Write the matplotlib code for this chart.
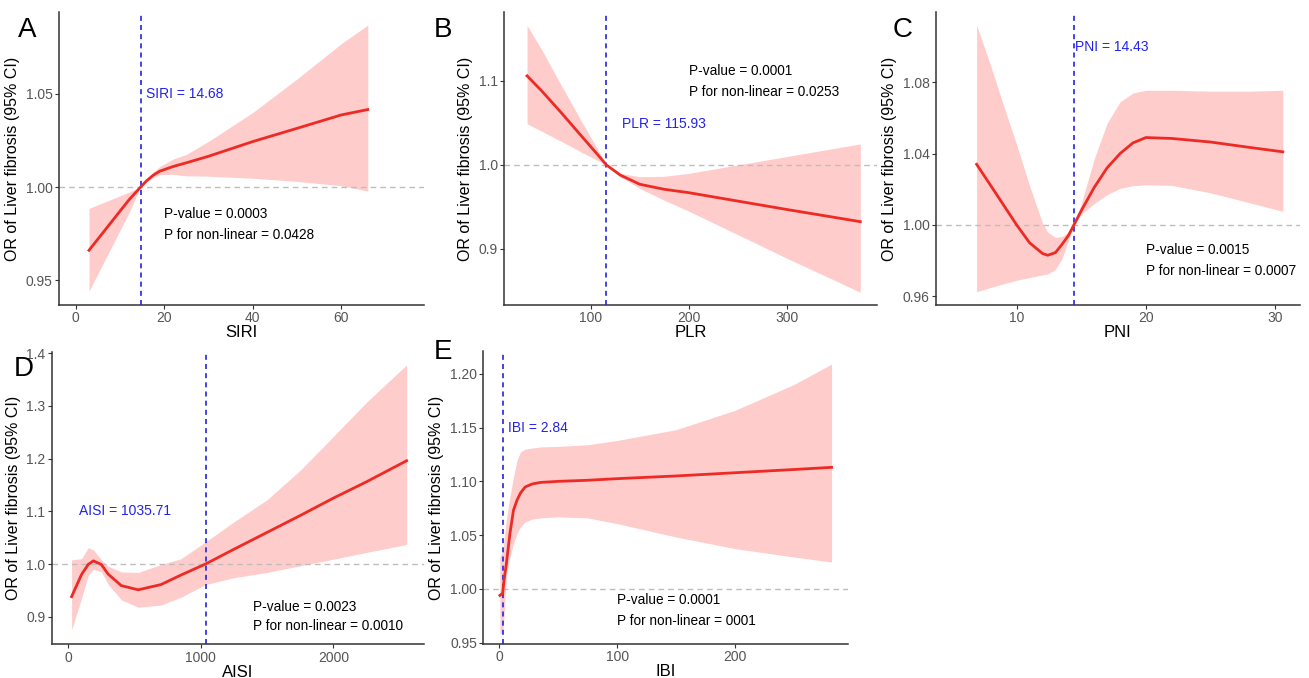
import matplotlib
matplotlib.use("Agg")
import matplotlib.pyplot as plt

plt.rcParams['font.family'] = ['Liberation Sans', 'DejaVu Sans']

# ---- data ----
# A: SIRI
siri_x = [3, 6, 9, 12, 14.68, 16, 17.5, 19, 22, 25, 30, 40, 50, 60, 66]
siri_or = [0.966, 0.975, 0.984, 0.993, 1.0, 1.0033, 1.0063, 1.0085, 1.011, 1.013, 1.0165, 1.0244, 1.0315,
           1.0387, 1.0416]
siri_hi = [0.9885, 0.9914, 0.9943, 0.9972, 1.0, 1.0040, 1.0080, 1.0110, 1.0150, 1.0175, 1.0245, 1.040,
           1.058, 1.077, 1.087]
siri_lo = [0.944, 0.958, 0.972, 0.986, 1.0, 1.0028, 1.0050, 1.0066, 1.0068, 1.006, 1.0058, 1.0047, 1.003,
           1.0007, 0.9978]

# B: PLR
plr_x = [35, 50, 70, 90, 105, 115.93, 130, 150, 175, 200, 250, 300, 375]
plr_or = [1.106, 1.088, 1.062, 1.035, 1.015, 1.0, 0.988, 0.977, 0.971, 0.967, 0.957, 0.947, 0.9325]
plr_hi = [1.166, 1.137, 1.0945, 1.053, 1.0225, 1.0, 0.99, 0.986, 0.9865, 0.99, 1.0, 1.01, 1.025]
plr_lo = [1.049, 1.040, 1.028, 1.0155, 1.0066, 1.0, 0.986, 0.972, 0.958, 0.945, 0.917, 0.889, 0.8485]

# C: PNI
pni_x = [6.9, 8, 9, 10, 11, 12, 12.4, 13, 13.5, 14, 14.43, 15, 16, 17, 18, 19, 20, 22, 25, 28, 30.6]
pni_or = [1.034, 1.022, 1.011, 1.0, 0.990, 0.984, 0.983, 0.9845, 0.989, 0.994, 1.0, 1.008, 1.021,
          1.032, 1.040, 1.046, 1.049, 1.0485, 1.0465, 1.0435, 1.041]
pni_hi = [1.112, 1.089, 1.0666, 1.045, 1.022, 1.001, 0.996, 0.993, 0.9935, 0.996, 1.0, 1.012, 1.037,
          1.057, 1.069, 1.074, 1.0755, 1.0755, 1.075, 1.075, 1.0755]
pni_lo = [0.9625, 0.965, 0.967, 0.969, 0.9705, 0.972, 0.9725, 0.975, 0.981, 0.991, 1.0, 1.006, 1.012,
          1.017, 1.0205, 1.022, 1.0225, 1.0222, 1.018, 1.0125, 1.0076]

# D: AISI
aisi_x = [25, 100, 150, 189, 250, 300, 400, 528, 700, 850, 1035.71, 1250, 1500, 1750, 2000, 2250, 2553]
aisi_or = [0.938, 0.980, 0.999, 1.006, 0.999, 0.981, 0.959, 0.951, 0.961, 0.979, 1.0, 1.028, 1.060,
           1.092, 1.125, 1.156, 1.196]
aisi_hi = [1.008, 1.010, 1.031, 1.027, 1.008, 0.996, 0.985, 0.984, 0.999, 1.010, 1.042, 1.080, 1.122,
           1.178, 1.242, 1.307, 1.378]
aisi_lo = [0.875, 0.935, 0.978, 0.990, 0.985, 0.962, 0.932, 0.918, 0.922, 0.937, 0.961, 0.974, 0.984,
           0.9965, 1.009, 1.022, 1.037]

# E: IBI
ibi_x = [0.5, 2.84, 4, 6, 9, 12, 15, 18, 22, 28, 35, 50, 75, 100, 150, 200, 250, 282]
ibi_or = [0.994, 0.996, 1.008, 1.0235, 1.0514, 1.073, 1.0824, 1.0892, 1.0948, 1.0976, 1.099, 1.1,
          1.101, 1.1025, 1.105, 1.108, 1.111, 1.113]
ibi_hi = [1.03, 1.035, 1.045, 1.065, 1.0855, 1.104, 1.1196, 1.1273, 1.130, 1.131, 1.132, 1.1325,
          1.134, 1.138, 1.148, 1.166, 1.19, 1.209]
ibi_lo = [0.958, 0.96, 0.975, 1.0127, 1.0297, 1.042, 1.0514, 1.0576, 1.0623, 1.065, 1.066, 1.067,
          1.066, 1.0607, 1.0483, 1.0375, 1.0297, 1.025]

panels = [
    dict(tag="A", rect=[0.0451, 0.5501, 0.2788, 0.4322], x=siri_x, y=siri_or, lo=siri_lo, hi=siri_hi,
         name="SIRI", cut=14.68, cut_txt="SIRI = 14.68", xlim=(-3.77, 78.7), ylim=(0.9366, 1.094),
         xticks=[0, 20, 40, 60], yticks=[0.95, 1.00, 1.05], yfmt="{:.2f}",
         cut_pos=(15.8, 1.05), p_pos=(20, 0.9853, 0.974), pv=("0.0003", "0.0428"),
         tag_pos=(27, 30)),
    dict(tag="B", rect=[0.3853, 0.5501, 0.2845, 0.4322], x=plr_x, y=plr_or, lo=plr_lo, hi=plr_hi,
         name="PLR", cut=115.93, cut_txt="PLR = 115.93", xlim=(11.8, 391.8), ylim=(0.8333, 1.182),
         xticks=[100, 200, 300], yticks=[0.9, 1.0, 1.1], yfmt="{:.1f}",
         cut_pos=(131.6, 1.049), p_pos=(200, 1.112, 1.0873), pv=("0.0001", "0.0253"),
         tag_pos=(443, 30)),
    dict(tag="C", rect=[0.7148, 0.5501, 0.2783, 0.4322], x=pni_x, y=pni_or, lo=pni_lo, hi=pni_hi,
         name="PNI", cut=14.43, cut_txt="PNI = 14.43", xlim=(3.73, 31.93), ylim=(0.9551, 1.1194),
         xticks=[10, 20, 30], yticks=[0.96, 1.00, 1.04, 1.08], yfmt="{:.2f}",
         cut_pos=(14.5, 1.0998), p_pos=(20, 0.9858, 0.9742), pv=("0.0015", "0.0007"),
         tag_pos=(903, 30)),
    dict(tag="D", rect=[0.0395, 0.0497, 0.2844, 0.4316], x=aisi_x, y=aisi_or, lo=aisi_lo, hi=aisi_hi,
         name="AISI", cut=1035.71, cut_txt="AISI = 1035.71", xlim=(-125, 2684), ylim=(0.8476, 1.403),
         xticks=[0, 1000, 2000], yticks=[0.9, 1.0, 1.1, 1.2, 1.3, 1.4], yfmt="{:.1f}",
         cut_pos=(80, 1.10), p_pos=(1396, 0.919, 0.8817), pv=("0.0023", "0.0010"),
         tag_pos=(24, 369)),
    dict(tag="E", rect=[0.3692, 0.0501, 0.2784, 0.4326], x=ibi_x, y=ibi_or, lo=ibi_lo, hi=ibi_hi,
         name="IBI", cut=2.84, cut_txt="IBI = 2.84", xlim=(-13.6, 295.7), ylim=(0.9488, 1.2214),
         xticks=[0, 100, 200], yticks=[0.95, 1.00, 1.05, 1.10, 1.15, 1.20], yfmt="{:.2f}",
         cut_pos=(7.6, 1.15), p_pos=(100.2, 0.9895, 0.970), pv=("0.0001", "0001"),
         tag_pos=(443, 352)),
]

fig = plt.figure(figsize=(13.09, 6.78), dpi=100)
W, H = 1309, 678

for p in panels:
    ax = fig.add_axes(p["rect"])
    ax.fill_between(p["x"], p["lo"], p["hi"], color="#FFCCCC", lw=0, zorder=1)
    ax.axhline(1.0, color="#BDBDBD", ls=(0, (4, 3)), lw=1.0, zorder=2)
    ax.axvline(p["cut"], color="#2323E6", ls=(0, (3, 2.5)), lw=1.2, zorder=3)
    ax.plot(p["x"], p["y"], color="#EE2A24", lw=2.0, zorder=4)

    ax.set_xlim(p["xlim"])
    ax.set_ylim(p["ylim"])
    ax.set_xticks(p["xticks"])
    ax.set_xticklabels([str(t) for t in p["xticks"]])
    ax.set_yticks(p["yticks"])
    ax.set_yticklabels([p["yfmt"].format(t) for t in p["yticks"]])
    ax.tick_params(colors="#333333", labelcolor="#555555", labelsize=10, length=3, width=0.8, pad=1.5)
    for s in ["top", "right"]:
        ax.spines[s].set_visible(False)
    for s in ["left", "bottom"]:
        ax.spines[s].set_color("#333333")
        ax.spines[s].set_linewidth(1.1)

    ax.set_xlabel(p["name"], fontsize=12, labelpad=0)
    ax.set_ylabel("OR of Liver fibrosis (95% CI)", fontsize=11.5, labelpad=4)

    ax.text(p["cut_pos"][0], p["cut_pos"][1], p["cut_txt"], color="#2323E6", fontsize=10,
            ha="left", va="center", zorder=5)
    px, py1, py2 = p["p_pos"]
    ax.text(px, py1, "P-value = " + p["pv"][0], color="black", fontsize=9.8, ha="left", va="center", zorder=5)
    ax.text(px, py2, "P for non-linear = " + p["pv"][1], color="black", fontsize=9.8, ha="left", va="center",
            zorder=5)

    tx, ty = p["tag_pos"]
    fig.text(tx / W, 1 - ty / H, p["tag"], fontsize=20, ha="center", va="center")

fig.savefig("out.png", dpi=100)
